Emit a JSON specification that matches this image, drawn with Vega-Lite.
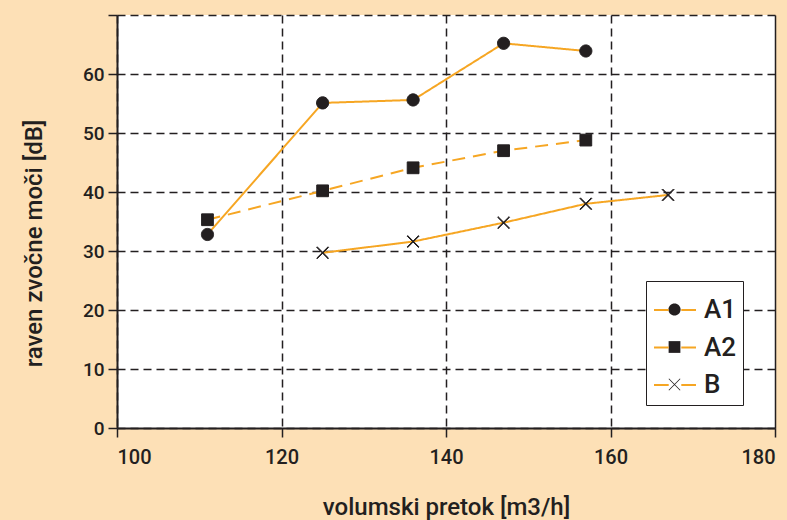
{
  "$schema": "https://vega.github.io/schema/vega-lite/v6.json",
  "width": 658,
  "height": 413,
  "autosize": "none",
  "padding": {"left": 117, "top": 15, "right": 12, "bottom": 92},
  "background": "#fde0b6",
  "config": {
    "view": {"fill": "white", "stroke": null},
    "font": "Roboto",
    "axis": {
      "labelFont": "Roboto",
      "labelFontWeight": 500,
      "labelColor": "#231f20",
      "titleFont": "Roboto",
      "titleFontWeight": 500,
      "titleColor": "#231f20",
      "domainColor": "#231f20",
      "domainWidth": 2,
      "tickColor": "#231f20",
      "tickWidth": 1.5,
      "tickSize": 9,
      "gridColor": "#231f20",
      "gridWidth": 1.5,
      "gridOpacity": 1
    }
  },
  "data": {
    "values": [
      {"flow": 111, "level": 32.8, "series": "A1", "marker": "A1"},
      {"flow": 125, "level": 55.1, "series": "A1", "marker": "A1"},
      {"flow": 136, "level": 55.6, "series": "A1", "marker": "A1"},
      {"flow": 147, "level": 65.2, "series": "A1", "marker": "A1"},
      {"flow": 157, "level": 63.9, "series": "A1", "marker": "A1"},
      {"flow": 111, "level": 35.3, "series": "A2", "marker": "A2"},
      {"flow": 125, "level": 40.2, "series": "A2", "marker": "A2"},
      {"flow": 136, "level": 44.1, "series": "A2", "marker": "A2"},
      {"flow": 147, "level": 47.0, "series": "A2", "marker": "A2"},
      {"flow": 157, "level": 48.8, "series": "A2", "marker": "A2"},
      {"flow": 125, "level": 29.7, "series": "B", "marker": "B"},
      {"flow": 136, "level": 31.6, "series": "B", "marker": "B"},
      {"flow": 147, "level": 34.8, "series": "B", "marker": "B"},
      {"flow": 157, "level": 38.0, "series": "B", "marker": "B"},
      {"flow": 167, "level": 39.5, "series": "B", "marker": "B"}
    ]
  },
  "encoding": {
    "x": {
      "field": "flow",
      "type": "quantitative",
      "scale": {"domain": [100, 180], "nice": false, "zero": false},
      "axis": {
        "values": [100, 120, 140, 160, 180],
        "title": "volumski pretok [m3/h]",
        "labelFontSize": 20,
        "labelPadding": 10,
        "titleFontSize": 24,
        "titlePadding": 28,
        "gridDash": {"condition": {"test": "datum.value == 180", "value": [1, 0]}, "value": [8, 5]}
      }
    },
    "y": {
      "field": "level",
      "type": "quantitative",
      "scale": {"domain": [0, 70], "nice": false},
      "axis": {
        "values": [0, 10, 20, 30, 40, 50, 60, 70],
        "labelExpr": "datum.value == 70 ? '' : datum.label",
        "title": "raven zvočne moči [dB]",
        "labelFontSize": 19,
        "labelPadding": 4,
        "titleFontSize": 24,
        "titlePadding": 36,
        "titleY": 228,
        "gridDash": [8, 5]
      }
    }
  },
  "layer": [
    {
      "mark": {"type": "line", "strokeWidth": 2},
      "encoding": {
        "color": {
          "field": "series",
          "type": "nominal",
          "scale": {"range": ["#f6a623", "#f6a623", "#f6a623"]},
          "legend": {
            "title": null,
            "orient": "none",
            "legendX": 529,
            "legendY": 266,
            "padding": 7,
            "symbolType": "M-1,0H-0.3M0.3,0H1",
            "symbolSize": 1764,
            "symbolStrokeWidth": 2,
            "labelFont": "Roboto",
            "labelFontWeight": 500,
            "labelFontSize": 26,
            "labelColor": "#231f20",
            "labelOffset": 7,
            "rowPadding": 2.5,
            "zindex": 1
          }
        },
        "strokeDash": {
          "field": "series",
          "type": "nominal",
          "scale": {"domain": ["A1", "A2", "B"], "range": [[1, 0], [13, 8], [1, 0]]},
          "legend": null
        }
      }
    },
    {
      "mark": {"type": "point", "filled": true, "fill": "#231f20", "stroke": "#231f20", "strokeWidth": 1, "size": 1764, "opacity": 1},
      "encoding": {
        "shape": {
          "field": "marker",
          "type": "nominal",
          "scale": {
            "range": [
              "M0.29,0A0.29,0.29,0,1,1,-0.29,0A0.29,0.29,0,1,1,0.29,0Z",
              "M-0.28,-0.28H0.28V0.28H-0.28Z",
              "M-0.283,-0.257L0.257,0.283L0.283,0.257L-0.257,-0.283ZM-0.257,0.283L0.283,-0.257L0.257,-0.283L-0.283,0.257Z"
            ]
          },
          "legend": {
            "title": null,
            "orient": "none",
            "legendX": 529,
            "legendY": 266,
            "padding": 7,
            "fillColor": "white",
            "strokeColor": "#231f20",
            "symbolSize": 1764,
            "symbolStrokeWidth": 1,
            "symbolFillColor": "#231f20",
            "symbolStrokeColor": "#231f20",
            "labelFont": "Roboto",
            "labelFontWeight": 500,
            "labelFontSize": 26,
            "labelOpacity": 0,
            "labelOffset": 7,
            "rowPadding": 2.5,
            "zindex": 0,
            "encode": {
              "legend": {"update": {"strokeWidth": {"value": 2}}},
              "symbols": {"update": {"stroke": {"value": "#231f20"}, "strokeWidth": {"value": 1}, "strokeOpacity": {"value": 1}, "fill": {"value": "#231f20"}, "fillOpacity": {"value": 1}}}
            }
          }
        }
      }
    }
  ]
}
